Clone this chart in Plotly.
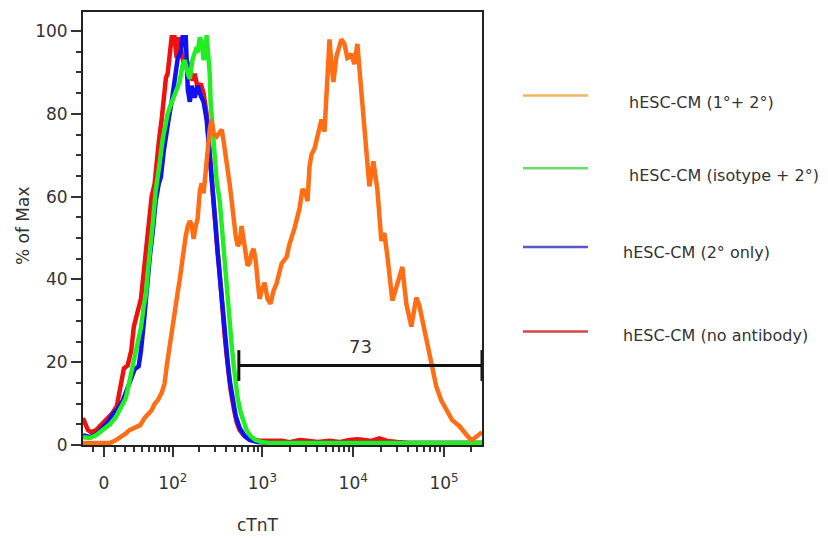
import numpy as np
import plotly.graph_objects as go

# ---------------------------------------------------------------
# cTnT flow cytometry overlay (% of max vs. cTnT intensity)
# x values are raw fluorescence; the axis uses a biexponential
# (arcsinh) display so that 0 and negative values can be shown.
# ---------------------------------------------------------------

SERIES_NAMES = [
    "hESC-CM (1°+ 2°)",
    "hESC-CM (isotype + 2°)",
    "hESC-CM (2° only)",
    "hESC-CM (no antibody)",
]

# hESC-CM (no antibody)
red_x = [-20, -15, -12, -7, -3.6, 1.8, 7.3, 12, 14, 16, 19, 23, 27, 30, 34, 39, 43, 47, 52, 55,
         60, 64, 68, 74, 78, 83, 87, 92, 97, 105, 111, 117, 124, 134, 145, 157, 169, 178, 192, 208,
         224, 242, 255, 268, 283, 297, 313, 330, 347, 365, 384, 404, 425, 447, 483, 520, 562, 620,
         687, 821, 981, 1200, 1430, 1630, 2000, 2570, 3140, 4050, 5490, 7050, 9090, 11120, 13280,
         15860, 19420, 23780, 30640, 41500, 88600, 262144]
red_y = [6.5, 3.6, 3.1, 3.6, 4.6, 6.0, 7.5, 9.4, 12, 14.7, 18.5, 19.2, 22.8, 28.6, 31.7, 35.3, 42,
         49, 56.5, 60, 63, 69.7, 73.3, 79, 85, 88.7, 89.7, 95, 98.5, 98.5, 93.5, 98.5, 96, 92, 93,
         90, 88, 89.7, 86.3, 87.3, 84.9, 80, 73.3, 66.8, 61.3, 56.5, 49.3, 44, 37.3, 32, 26.4, 21.6,
         16.8, 13.2, 8.9, 5.5, 3.6, 2.4, 1.7, 1.2, 1.0, 1.0, 1.2, 1.0, 0.7, 1.2, 1.0, 0.7, 1.0, 0.7,
         1.2, 1.4, 1.2, 1.0, 1.6, 1.0, 0.7, 0.5, 0.5, 0.5]

# hESC-CM (2° only)
blue_x = [-20, -13, -7, -0.9, 3.6, 8.3, 13, 18, 22, 27, 31, 36, 39, 43, 47, 52, 57, 62, 68, 72,
          78, 85, 90, 97, 105, 114, 124, 130, 141, 149, 157, 165, 178, 192, 208, 224, 242, 255,
          268, 290, 305, 321, 338, 356, 374, 394, 414, 436, 470, 508, 562, 637, 723, 886, 1200,
          262144]
blue_y = [2.4, 1.9, 2.6, 4.1, 5.5, 7.5, 8.7, 10.8, 13.2, 16.1, 18.3, 19, 22.8, 29.6, 37.3, 45.4,
          51.7, 58.9, 63.2, 64.7, 70.9, 76.9, 79.1, 82.9, 87.7, 93.3, 95, 98.5, 98.5, 85.8, 82.9,
          86.8, 83.9, 86.8, 84.4, 82.9, 78.6, 73.3, 68, 59.4, 52.9, 46.4, 40.6, 34.9, 29.6, 24.5,
          20, 15.6, 10.8, 7.0, 4.1, 2.2, 1.2, 0.7, 0.5, 0.5]

# hESC-CM (isotype + 2°)
green_x = [-20, -13, -7, -0.9, 5.5, 11, 16, 21, 24, 27, 30, 32, 36, 39, 43, 46, 49, 52, 57, 62,
           66, 70, 76, 83, 87, 92, 100, 105, 114, 120, 130, 137, 149, 157, 169, 183, 192, 203, 213,
           224, 236, 242, 248, 262, 268, 283, 297, 313, 338, 356, 374, 394, 414, 436, 459, 483,
           508, 534, 576, 620, 670, 740, 840, 981, 1200, 262144]
green_y = [1.9, 1.7, 2.4, 3.6, 5.0, 6.7, 8.9, 11.3, 14.4, 17.3, 20.4, 22.8, 26.4, 28.4, 33.7, 36.3,
           42.1, 46.2, 53.6, 61.3, 64.2, 68.5, 74, 78.6, 80, 81.5, 83.4, 84.6, 86.5, 87.7, 91.8, 93,
           89.7, 88.5, 93.3, 95.4, 94.9, 98.5, 97.4, 93, 94.9, 99, 96.2, 89.7, 82.9, 75, 68.5, 63.7,
           59, 53, 45, 39, 35, 29.6, 24, 19.2, 14.4, 11.3, 7.9, 5.5, 3.6, 2.2, 1.2, 0.7, 0.5, 0.5]

# hESC-CM (1°+ 2°)
orange_x = [-20, -8, 5.5, 10, 15, 20, 25, 31, 38, 44, 49, 55, 60, 66, 74, 80, 85, 90, 95, 100,
            108, 114, 120, 130, 141, 149, 157, 165, 173, 183, 192, 203, 213, 224, 236, 248, 262,
            275, 290, 313, 338, 356, 374, 394, 414, 436, 459, 483, 508, 534, 562, 590, 620, 653,
            687, 723, 761, 801, 850, 886, 932, 981, 1057, 1140, 1231, 1328, 1433, 1627, 1847, 1993,
            2261, 2567, 2768, 2988, 3143, 3305, 3478, 3751, 4048, 4257, 4480, 4833, 5085, 5486,
            5760, 6057, 6536, 7050, 7418, 8003, 8635, 9090, 9556, 10310, 11124, 12312, 13282,
            14330, 15075, 16682, 18461, 20430, 22043, 23780, 25020, 26995, 30636, 34774, 36580,
            38484, 43679, 49572, 53500, 56268, 63720, 72324, 82080, 93168, 105750, 123100, 146990,
            166820, 189360, 204300, 231880, 262144]
orange_y = [0.5, 0.5, 0.5, 1.0, 1.7, 2.6, 3.6, 4.1, 4.8, 6.5, 7.5, 8.4, 9.9, 10.8, 12.7, 14.9, 19.2,
            22.8, 26, 30, 34.1, 36.8, 39.7, 45.7, 50.5, 52.9, 54.1, 53.1, 49.8, 52.9, 54.6, 61.3,
            63.2, 60.8, 66.6, 72.1, 76.2, 78.6, 75.2, 74.5, 75.7, 76.2, 73.3, 70.2, 66.6, 63, 58.9,
            54.1, 50.5, 48.1, 48.8, 52.9, 49.3, 45, 43.3, 44, 46.4, 47.4, 44, 39.7, 35.3, 37.3,
            39.2, 35.3, 34.1, 37.3, 39, 43.8, 45.4, 48.6, 52.4, 57.2, 61.8, 60.8, 58.9, 67.3, 70.2,
            71.6, 75, 77.6, 78.6, 75.7, 85.8, 98, 92, 87.7, 93.8, 96.2, 98, 96.9, 93.5, 93.8, 94.5,
            92, 96.9, 85.3, 77.6, 69.7, 62.5, 68.5, 61.8, 49.3, 51.2, 45.7, 41.6, 34.9, 38.9, 43,
            38.5, 34.1, 28.6, 35.6, 33.7, 31.5, 25.2, 20.4, 14.2, 10.8, 8.4, 6.0, 4.6, 3.1, 1.7,
            1.2, 2.2, 3.1]

LINE_COLORS = ["#FF6E14", "#22EE22", "#1010F0", "#F01010"]
LEGEND_COLORS = ["#F2B562", "#66E066", "#5858C8", "#D04848"]

# positive gate
GATE_LO, GATE_HI, GATE_Y = 550, 262144, 19.2
GATE_LABEL = "73"

# axis settings (raw units)
X_RANGE = [-20, 262144]
Y_RANGE = [0, 104.6]
X_MAJOR = [0, 1e2, 1e3, 1e4, 1e5]
X_MAJOR_TEXT = ["0", "10<sup>2</sup>", "10<sup>3</sup>", "10<sup>4</sup>", "10<sup>5</sup>"]
X_MINOR = ([-10] + [k * 10 for k in range(1, 10)] + [k * 100 for k in range(2, 10)]
           + [k * 1000 for k in range(2, 10)] + [k * 10000 for k in range(2, 10)] + [200000])
Y_MAJOR = [0, 20, 40, 60, 80, 100]

WIDTH_C = 36.0


def biex(v):
    """Biexponential-style display transform (arcsinh, in decades)."""
    return np.arcsinh(np.asarray(v, dtype=float) / WIDTH_C) / np.log(10)


FONT = "DejaVu Sans"
TXT = "#333333"

fig = go.Figure()

# draw order: no antibody, 2° only, isotype, then stained sample on top
order = [(red_x, red_y, 3), (blue_x, blue_y, 2), (green_x, green_y, 1), (orange_x, orange_y, 0)]
for xs, ys, idx in order:
    fig.add_trace(go.Scatter(
        x=biex(xs), y=ys, mode="lines", name=SERIES_NAMES[idx],
        line=dict(color=LINE_COLORS[idx], width=4.5),
        showlegend=False, hoverinfo="skip",
    ))

# gate bar with end caps
fig.add_trace(go.Scatter(
    x=biex([GATE_LO, GATE_HI]), y=[GATE_Y, GATE_Y], mode="lines+markers",
    line=dict(color="#111111", width=3),
    marker=dict(symbol="line-ns", size=22, line=dict(color="#111111", width=3)),
    cliponaxis=False, showlegend=False, hoverinfo="skip",
))
gate_mid = float(np.mean(biex([GATE_LO, GATE_HI])))
fig.add_annotation(x=gate_mid, y=GATE_Y, xref="x", yref="y", text=GATE_LABEL,
                   showarrow=False, yanchor="bottom", yshift=7,
                   font=dict(family=FONT, size=18, color=TXT))

# legend drawn as line samples + labels to the right of the plot
leg_line_y = [94, 167, 246, 331]
leg_text_y = [101, 174, 252, 335]
leg_text_x = [627, 627, 621, 621]
PX_L, PX_R, PX_T, PX_B = 83, 482, 10, 445


def px2paper_x(px):
    return (px - PX_L) / (PX_R - PX_L)


def px2paper_y(py):
    return (PX_B - py) / (PX_B - PX_T)


for i, name in enumerate(SERIES_NAMES):
    fig.add_shape(type="line", xref="paper", yref="paper",
                  x0=px2paper_x(523), x1=px2paper_x(588),
                  y0=px2paper_y(leg_line_y[i]), y1=px2paper_y(leg_line_y[i]),
                  line=dict(color=LEGEND_COLORS[i], width=2.5))
    fig.add_annotation(x=px2paper_x(leg_text_x[i]), y=px2paper_y(leg_text_y[i]),
                       xref="paper", yref="paper", text=name, showarrow=False,
                       xanchor="left", yanchor="middle",
                       font=dict(family=FONT, size=16, color=TXT))

# axis titles
fig.add_annotation(x=px2paper_x(23), y=px2paper_y(225), xref="paper", yref="paper",
                   text="% of Max", textangle=-90, showarrow=False,
                   xanchor="center", yanchor="middle",
                   font=dict(family=FONT, size=17, color=TXT))
fig.add_annotation(x=px2paper_x(258), y=px2paper_y(525), xref="paper", yref="paper",
                   text="cTnT", showarrow=False, xanchor="center", yanchor="middle",
                   font=dict(family=FONT, size=17, color=TXT))

fig.update_layout(
    width=828, height=538,
    margin=dict(l=PX_L, r=828 - PX_R, t=PX_T, b=538 - PX_B),
    paper_bgcolor="white", plot_bgcolor="white",
    xaxis=dict(
        range=list(biex(X_RANGE)), tickmode="array",
        tickvals=list(biex(X_MAJOR)), ticktext=X_MAJOR_TEXT,
        ticks="outside", ticklen=10, tickwidth=2, tickcolor="#333",
        showline=True, linecolor="#222", linewidth=2, mirror=True,
        showgrid=False, zeroline=False, ticklabelstandoff=12,
        tickfont=dict(family=FONT, size=17, color=TXT),
        minor=dict(tickmode="array", tickvals=list(biex(X_MINOR)), ticks="outside",
                   ticklen=5, tickwidth=2, tickcolor="#333", showgrid=False),
    ),
    yaxis=dict(
        range=Y_RANGE, tickmode="array", tickvals=Y_MAJOR,
        ticks="outside", ticklen=10, tickwidth=2, tickcolor="#333",
        showline=True, linecolor="#222", linewidth=2, mirror=True,
        showgrid=False, zeroline=False,
        tickfont=dict(family=FONT, size=17, color=TXT),
        minor=dict(dtick=5, tick0=0, ticks="outside", ticklen=5, tickwidth=2,
                   tickcolor="#333", showgrid=False),
    ),
)

fig.write_html("out.html")
